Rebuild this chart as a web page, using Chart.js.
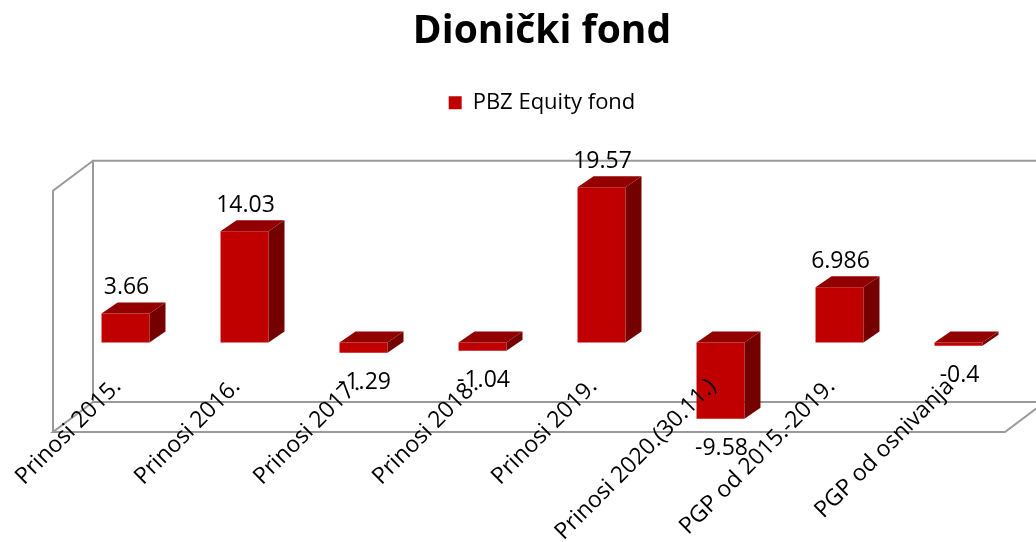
<!DOCTYPE html>
<html>
<head>
<meta charset="utf-8">
<script src="https://cdn.jsdelivr.net/npm/chart.js@4.4.1/dist/chart.umd.min.js"></script>
<style>
  html, body { margin: 0; padding: 0; background: #fff; }
  #wrap { width: 1036px; height: 542px; position: relative; }
</style>
</head>
<body>
<div id="wrap"><canvas id="myChart"></canvas></div>
<script>
const chartTitle = 'Dionički fond'
const seriesName = 'PBZ Equity fond'
const categories = [
  'Prinosi 2015.', 'Prinosi 2016.', 'Prinosi 2017.', 'Prinosi 2018.',
  'Prinosi 2019.', 'Prinosi 2020.(30.11.)', 'PGP od 2015.-2019.', 'PGP od osnivanja'
]
const equityValues = [3.66, 14.03, -1.29, -1.04, 19.57, -9.58, 6.986, -0.4]
const yMin = -10
const yMax = 20

const family = "'Open Sans', sans-serif"
const colors = {
  front: '#c00000',
  top: '#920000',
  side: '#740000',
  frame: '#9a9a9a',
  text: '#000000'
}
// bar depth offset (excel style 3d)
const depth = { dx: 16, dy: -11 }

// push the plot area down below the legend
const legendGap = {
  id: 'legendGap',
  beforeInit(chart) {
    const fit = chart.legend.fit
    chart.legend.fit = function () {
      fit.bind(chart.legend)()
      this.height += 60
    }
  }
}

// grey box walls behind the bars
const frame3d = {
  id: 'frame3d',
  beforeDatasetsDraw(chart) {
    const { ctx, chartArea: a } = chart
    const fl = a.left - 13, fr = a.right - 13, ft = a.top + 7, fb = a.bottom + 10
    const bx = 40, by = -30
    ctx.save()
    ctx.strokeStyle = colors.frame
    ctx.lineWidth = 2
    ctx.beginPath()
    // back wall
    ctx.moveTo(fl + bx, fb + by); ctx.lineTo(fl + bx, ft + by); ctx.lineTo(fr + bx, ft + by)
    ctx.moveTo(fl + bx, fb + by); ctx.lineTo(fr + bx, fb + by)
    // side wall
    ctx.moveTo(fl, fb); ctx.lineTo(fl, ft); ctx.lineTo(fl + bx, ft + by)
    // floor
    ctx.moveTo(fl + bx, fb + by); ctx.lineTo(fl, fb); ctx.lineTo(fr, fb); ctx.lineTo(fr + bx, fb + by)
    ctx.stroke()
    ctx.restore()
  }
}

// top/side faces and value labels
const bars3d = {
  id: 'bars3d',
  afterDatasetsDraw(chart) {
    const { ctx } = chart
    const meta = chart.getDatasetMeta(0)
    const { dx, dy } = depth
    ctx.save()
    meta.data.forEach((bar, i) => {
      const { x, y, base, width } = bar.getProps(['x', 'y', 'base', 'width'], true)
      const l = x - width / 2, r = x + width / 2
      const t = Math.min(y, base), b = Math.max(y, base)

      ctx.fillStyle = colors.side
      ctx.beginPath()
      ctx.moveTo(r, t); ctx.lineTo(r + dx, t + dy); ctx.lineTo(r + dx, b + dy); ctx.lineTo(r, b)
      ctx.closePath()
      ctx.fill()

      ctx.fillStyle = colors.top
      ctx.beginPath()
      ctx.moveTo(l, t); ctx.lineTo(l + dx, t + dy); ctx.lineTo(r + dx, t + dy); ctx.lineTo(r, t)
      ctx.closePath()
      ctx.fill()

      const v = equityValues[i]
      ctx.fillStyle = colors.text
      ctx.font = `23px ${family}`
      ctx.textAlign = 'center'
      ctx.textBaseline = 'middle'
      const ly = v >= 0 ? t - 26 : b + 30
      ctx.fillText(String(v), x + 1, ly)
    })
    ctx.restore()
  }
}

const canvas = document.getElementById('myChart')

new Chart(canvas, {
  type: 'bar',
  data: {
    labels: categories,
    datasets: [{
      label: seriesName,
      data: equityValues,
      backgroundColor: colors.front,
      borderWidth: 0,
      barPercentage: 0.403,
      categoryPercentage: 1
    }]
  },
  options: {
    responsive: true,
    maintainAspectRatio: false,
    animation: false,
    layout: { padding: { left: 66, right: 18, top: 0, bottom: 0 } },
    plugins: {
      title: {
        display: true,
        text: chartTitle,
        color: colors.text,
        font: { family: family, size: 39, weight: 'bold' },
        padding: { top: 8, bottom: 27 }
      },
      legend: {
        display: true,
        position: 'top',
        labels: {
          color: colors.text,
          font: { family: family, size: 22 },
          boxWidth: 13,
          boxHeight: 13,
          padding: 10
        }
      },
      tooltip: { enabled: false }
    },
    scales: {
      x: {
        grid: { display: false, drawTicks: false },
        border: { display: false },
        ticks: {
          z: 1,
          color: colors.text,
          font: { family: family, size: 23, lineHeight: 0.5 },
          minRotation: 45,
          maxRotation: 45,
          autoSkip: false,
          mirror: true,
          padding: 35
        },
        afterFit(scale) {
          scale.height = 120
          scale.paddingLeft = 0
          scale.paddingRight = 0
        }
      },
      y: { display: false, min: yMin, max: yMax }
    }
  },
  plugins: [legendGap, frame3d, bars3d]
})
</script>
</body>
</html>
